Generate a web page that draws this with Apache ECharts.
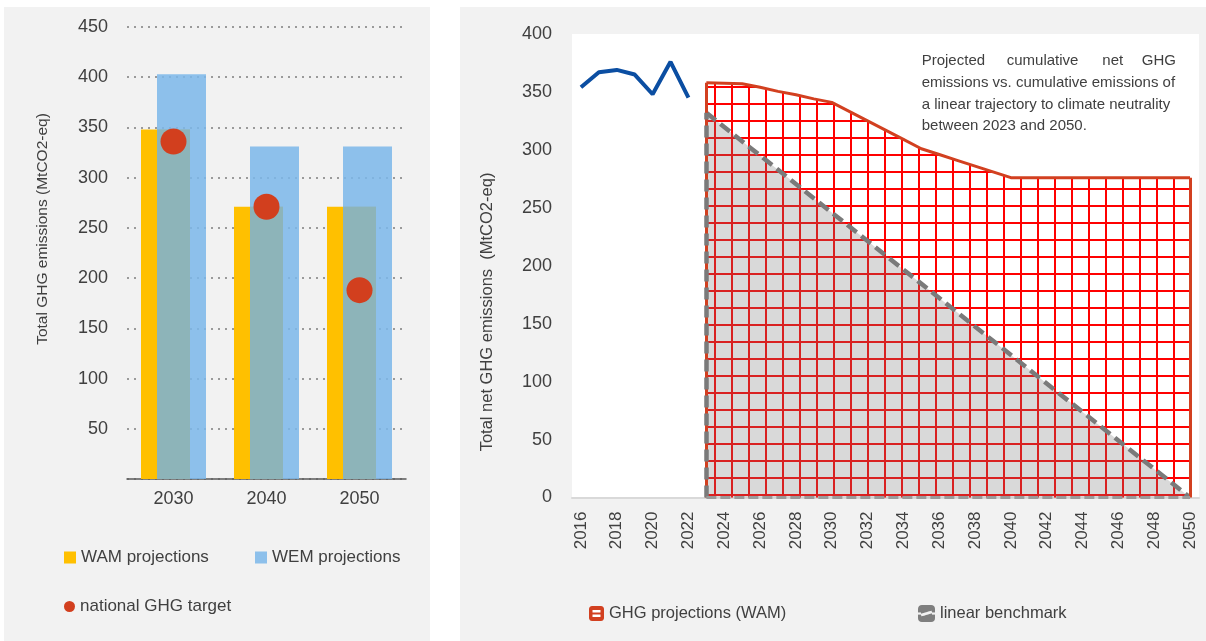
<!DOCTYPE html>
<html><head><meta charset="utf-8">
<script src="https://cdn.jsdelivr.net/npm/echarts@6/dist/echarts.min.js"></script>
<style>html,body{margin:0;padding:0;background:#fff}#c{width:1206px;height:641px}</style>
</head><body><div id="c"></div>
<script>
// ---------- data: left chart ----------
const barCategories = ['2030', '2040', '2050'];
const wamValues = [348, 271, 271];
const wemValues = [403, 331, 331];
const targetValues = [336, 271, 188];
// ---------- data: right chart ----------
const years = ['2016','2017','2018','2019','2020','2021','2022','2023','2024','2025','2026','2027','2028','2029','2030','2031','2032','2033','2034','2035','2036','2037','2038','2039','2040','2041','2042','2043','2044','2045','2046','2047','2048','2049','2050'];
const historicYears = ['2016','2017','2018','2019','2020','2021','2022'];
const historicValues = [354, 367, 369, 365, 348, 376, 345];
const projectionYears = ['2023','2024','2025','2026','2027','2028','2029','2030','2031','2032','2033','2034','2035','2036','2037','2038','2039','2040','2041','2042','2043','2044','2045','2046','2047','2048','2049','2050'];
const projectionValues = [358, 357.5, 357, 354, 350.5, 347.5, 344, 341, 333, 325, 317, 309, 301, 296, 291, 286, 281, 276, 276, 276, 276, 276, 276, 276, 276, 276, 276, 276];
const benchmarkYears = ['2023', '2050'];
const benchmarkValues = [332, 0];
const annotationLines = ['Projected cumulative net GHG', 'emissions vs. cumulative emissions of', 'a linear trajectory to climate neutrality', 'between 2023 and 2050.'];

// ---------- helpers ----------
const FONT = "'Liberation Sans', Arial, sans-serif";
const TXT = '#404040';
function onYears(keys, vals) {
  return years.map(y => { const i = keys.indexOf(y); return i >= 0 ? vals[i] : null; });
}
const historicSeries = onYears(historicYears, historicValues);
const projectionSeries = onYears(projectionYears, projectionValues);
const benchmarkSeries = onYears(benchmarkYears, benchmarkValues);
const overlapValues = wamValues.map((v, i) => Math.min(v, wemValues[i]));

function gridPattern() {
  const c = document.createElement('canvas'); c.width = 17; c.height = 17;
  const g = c.getContext('2d'); g.fillStyle = '#ff0000';
  g.fillRect(0, 1, 17, 2); g.fillRect(0, 0, 2, 17);
  return c;
}
function ghgIcon() {
  const c = document.createElement('canvas'); c.width = 30; c.height = 30;
  const g = c.getContext('2d');
  g.fillStyle = '#D24020'; g.beginPath(); g.roundRect(0, 0, 30, 30, 6); g.fill();
  g.fillStyle = '#ffffff'; g.fillRect(7, 8, 16, 5); g.fillRect(7, 17, 16, 5);
  return 'image://' + c.toDataURL();
}
function benchIcon() {
  const c = document.createElement('canvas'); c.width = 32; c.height = 32;
  const g = c.getContext('2d');
  g.fillStyle = '#7F7F7F'; g.beginPath(); g.roundRect(0, 0, 32, 32, 7); g.fill();
  g.strokeStyle = '#F2F2F2'; g.lineWidth = 5; g.beginPath(); g.moveTo(6, 19); g.lineTo(26, 13); g.stroke();
  g.fillStyle = '#F2F2F2'; g.fillRect(0, 14, 6, 4); g.fillRect(26, 14, 6, 4);
  return 'image://' + c.toDataURL();
}

const BAR_W = 49, BAR_OVER = 33;
const chart = echarts.init(document.getElementById('c'), null, { renderer: 'canvas' });
const annot = [];
const line1 = annotationLines[0].split(' ');
const w1x = [921.7, 1006.7, 1102.3, 1176];
line1.forEach((w, i) => annot.push({ type: 'text', x: w1x[i], y: 61, z: 50,
  style: { text: w, font: '15px ' + FONT, fill: TXT, align: i === line1.length - 1 ? 'right' : 'left', verticalAlign: 'middle' } }));
[82.7, 104.4, 126.1].forEach((yy, k) => annot.push({ type: 'text', x: 921.7, y: yy, z: 50,
  style: { text: annotationLines[k + 1], font: '15px ' + FONT, fill: TXT, align: 'left', verticalAlign: 'middle' } }));

const option = {
  animation: false,
  backgroundColor: '#ffffff',
  textStyle: { fontFamily: FONT },
  graphic: [
    { type: 'rect', z: -10, shape: { x: 4, y: 7, width: 426, height: 634 }, style: { fill: '#F2F2F2' } },
    { type: 'rect', z: -10, shape: { x: 460, y: 7, width: 746, height: 634 }, style: { fill: '#F2F2F2' } },
    { type: 'text', x: 43, y: 229, rotation: Math.PI / 2, z: 50,
      style: { text: 'Total GHG emissions (MtCO2-eq)', font: '15.5px ' + FONT, fill: TXT, align: 'center', verticalAlign: 'middle' } },
    { type: 'text', x: 487, y: 312, rotation: Math.PI / 2, z: 50,
      style: { text: 'Total net GHG emissions  (MtCO2-eq)', font: '16.5px ' + FONT, fill: TXT, align: 'center', verticalAlign: 'middle' } }
  ].concat(annot),
  grid: [
    { left: 127, right: 800, top: 27, bottom: 162 },
    { left: 572, right: 7, top: 34, bottom: 143.5, show: true, backgroundColor: '#ffffff', borderWidth: 0 }
  ],
  legend: [
    { data: [{ name: 'WAM projections', icon: 'rect' }], left: 64, top: 549, padding: 0, itemWidth: 12, itemHeight: 12, selectedMode: false,
      textStyle: { fontSize: 17, color: TXT, fontFamily: FONT } },
    { data: [{ name: 'WEM projections', icon: 'rect', itemStyle: { color: '#8DC0EB' } }], left: 255, top: 549, padding: 0, itemWidth: 12, itemHeight: 12, selectedMode: false,
      textStyle: { fontSize: 17, color: TXT, fontFamily: FONT } },
    { data: [{ name: 'national GHG target', icon: 'circle', itemStyle: { color: '#D23F1E', opacity: 1 } }], left: 64, top: 598, padding: 0, itemWidth: 11, itemHeight: 11, selectedMode: false,
      textStyle: { fontSize: 17, color: TXT, fontFamily: FONT } },
    { data: [{ name: 'GHG projections (WAM)', icon: ghgIcon() }], left: 589, top: 605, padding: 0, itemWidth: 15, itemHeight: 15, selectedMode: false,
      textStyle: { fontSize: 16.5, color: TXT, fontFamily: FONT } },
    { data: [{ name: 'linear benchmark', icon: benchIcon() }], left: 918, top: 605, padding: 0, itemWidth: 17, itemHeight: 17, selectedMode: false,
      textStyle: { fontSize: 16.5, color: TXT, fontFamily: FONT } }
  ],
  xAxis: [
    { type: 'category', gridIndex: 0, data: barCategories,
      axisLine: { lineStyle: { color: '#595959', width: 1.5 } }, axisTick: { show: false },
      axisLabel: { fontSize: 18, color: TXT, margin: 11, fontFamily: FONT } },
    { type: 'category', gridIndex: 1, data: years, boundaryGap: true,
      axisLine: { lineStyle: { color: '#D9D9D9', width: 2 } }, axisTick: { show: false },
      axisLabel: { rotate: 90, interval: 1, fontSize: 17, color: TXT, margin: 14, fontFamily: FONT } }
  ],
  yAxis: [
    { type: 'value', gridIndex: 0, min: 0, max: 450, interval: 50,
      axisLine: { show: false }, axisTick: { show: false },
      splitLine: { lineStyle: { color: '#9A9A9A', width: 2, type: [2, 5] } },
      axisLabel: { fontSize: 18, color: TXT, margin: 19, fontFamily: FONT, formatter: v => v === 0 ? '' : String(v) } },
    { type: 'value', gridIndex: 1, min: 0, max: 400, interval: 50,
      axisLine: { show: false }, axisTick: { show: false }, splitLine: { show: false },
      axisLabel: { fontSize: 18, color: TXT, margin: 20, fontFamily: FONT } }
  ],
  series: [
    { name: 'WAM projections', type: 'bar', xAxisIndex: 0, yAxisIndex: 0, data: wamValues,
      barWidth: BAR_W, barGap: (-BAR_OVER / BAR_W * 100) + '%', itemStyle: { color: '#FFC000' }, z: 2 },
    { name: 'WEM projections', type: 'bar', xAxisIndex: 0, yAxisIndex: 0, data: wemValues,
      barWidth: BAR_W, itemStyle: { color: 'rgba(123,183,234,0.85)' }, z: 2 },
    { name: 'overlap', type: 'custom', xAxisIndex: 0, yAxisIndex: 0, z: 3,
      data: overlapValues.map((v, i) => [i, v]),
      renderItem: function (params, api) {
        const top = api.coord([api.value(0), api.value(1)]);
        const base = api.coord([api.value(0), 0]);
        const total = 2 * BAR_W - BAR_OVER;
        const x0 = top[0] - total / 2 + (BAR_W - BAR_OVER);
        return { type: 'rect', shape: { x: x0, y: top[1], width: BAR_OVER, height: base[1] - top[1] }, style: { fill: '#8DB4B9' } };
      } },
    { name: 'national GHG target', type: 'scatter', xAxisIndex: 0, yAxisIndex: 0, data: targetValues,
      symbolSize: 26, itemStyle: { color: '#D23F1E', opacity: 1 }, z: 5 },

    { name: 'historic', type: 'line', xAxisIndex: 1, yAxisIndex: 1, data: historicSeries,
      symbol: 'none', lineStyle: { color: '#0B4EA2', width: 4 }, z: 4 },
    { name: 'GHG projections (WAM)', type: 'line', xAxisIndex: 1, yAxisIndex: 1, data: projectionSeries,
      symbol: 'none', lineStyle: { color: '#D24020', width: 3 }, itemStyle: { color: '#D24020' },
      areaStyle: { color: { image: gridPattern(), repeat: 'repeat' }, opacity: 1 }, z: 2,
      markLine: { silent: true, symbol: ['none', 'none'], label: { show: false }, animation: false,
        lineStyle: { color: '#D24020', width: 3, type: 'solid' },
        data: [
          [{ coord: [projectionYears[0], 0] }, { coord: [projectionYears[0], projectionValues[0]] }],
          [{ coord: [projectionYears[projectionYears.length - 1], 0] }, { coord: [projectionYears[projectionYears.length - 1], projectionValues[projectionValues.length - 1]] }]
        ] } },
    { name: 'linear benchmark', type: 'line', xAxisIndex: 1, yAxisIndex: 1, data: benchmarkSeries, connectNulls: true,
      symbol: 'none', lineStyle: { width: 0, color: 'rgba(0,0,0,0)' }, itemStyle: { color: '#7F7F7F' },
      areaStyle: { color: 'rgba(120,120,120,0.28)', opacity: 1 }, z: 3 },
    { name: 'linear benchmark', type: 'line', xAxisIndex: 1, yAxisIndex: 1, data: benchmarkSeries, connectNulls: true,
      symbol: 'none', lineStyle: { width: 4.5, color: '#7A7A7A', type: [12, 6] }, itemStyle: { color: '#7F7F7F' }, z: 4,
      markLine: { silent: true, symbol: ['none', 'none'], label: { show: false }, animation: false,
        lineStyle: { color: '#7A7A7A', width: 4.5, type: [12, 6] },
        data: [
          [{ coord: [benchmarkYears[0], 0] }, { coord: [benchmarkYears[0], benchmarkValues[0]] }],
          [{ coord: [benchmarkYears[0], 0], lineStyle: { width: 3, color: '#9A9A9A', type: [10, 4] } }, { coord: [benchmarkYears[1], 0] }]
        ] } }
  ]
};
chart.setOption(option);
</script></body></html>
